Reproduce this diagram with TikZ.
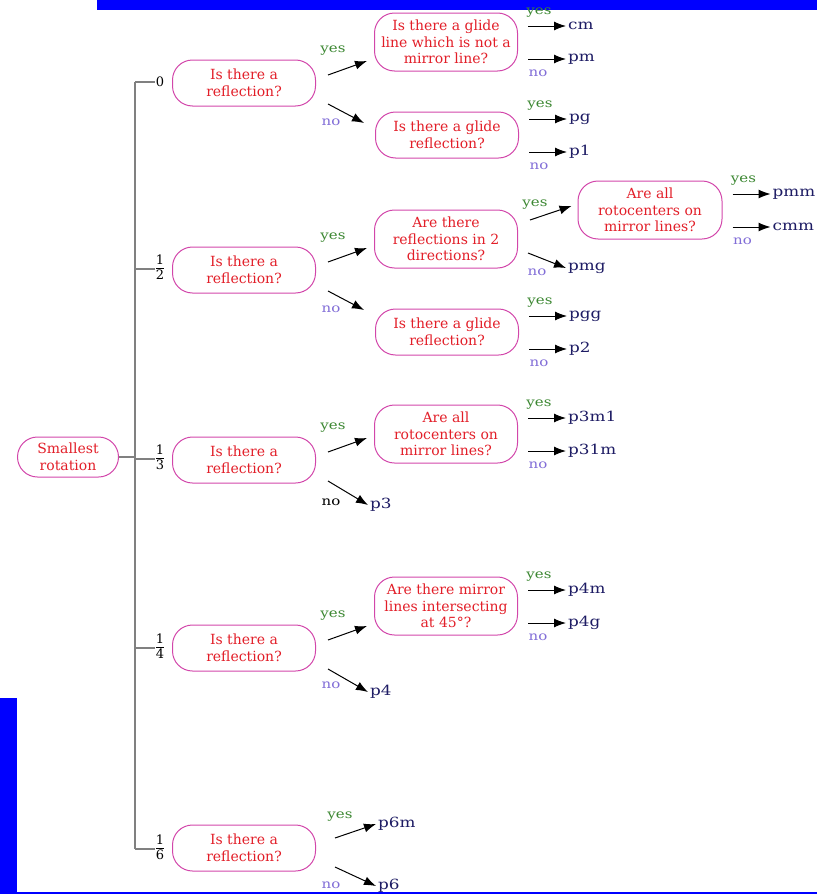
\documentclass[tikz,border=0pt]{standalone}
\usepackage{fontspec}
\setmainfont{DejaVu Serif}
\newfontfamily\leaffont[FakeStretch=1.2]{DejaVu Serif}
\usetikzlibrary{calc,arrows.meta,positioning}

\definecolor{boxline}{RGB}{210,70,170}
\definecolor{qred}{RGB}{226,30,40}
\definecolor{yesgreen}{RGB}{60,135,50}
\definecolor{nopurple}{RGB}{130,110,215}
\definecolor{leafblue}{RGB}{30,28,100}
\definecolor{barblue}{RGB}{0,0,255}

% stacked fraction for the rotation values
\newcommand{\rotfrac}[2]{{\renewcommand{\arraystretch}{0.85}%
	\begin{tabular}{@{}c@{}}#1\\[-1pt]\hline\noalign{\vskip 1.5pt}#2\end{tabular}}}

\tikzset{
	question/.style={draw=boxline, line width=1pt, text=qred, rounded corners=20pt, align=center,
		minimum width=143pt, minimum height=46pt, inner sep=1pt,
		font=\fontsize{14}{16.5}\selectfont},
	tall/.style={minimum height=58pt},
	leaf/.style={text=leafblue, anchor=west, inner sep=2pt, font=\leaffont\fontsize{14}{15}\selectfont},
	yeslab/.style={text=yesgreen, inner sep=1pt, font=\leaffont\fontsize{12.5}{13}\selectfont},
	nolab/.style={text=nopurple, inner sep=1pt, font=\leaffont\fontsize{12.5}{13}\selectfont},
	arr/.style={-{Latex[length=12pt,width=9pt]}, line width=1pt},
	trunk/.style={draw=gray, line width=1.2pt},
	frac/.style={inner sep=1pt, font=\fontsize{13}{15}\selectfont},
}

\begin{document}
\begin{tikzpicture}[x=1pt, y=-1pt]

	\useasboundingbox (0,0) rectangle (817,894);

	% blue frame pieces
	\fill[barblue] (97,0) rectangle (817,10);
	\fill[barblue] (0,698) rectangle (17,894);
	\fill[barblue] (0,891.5) rectangle (817,894);

	% root and trunk
	\node[question, minimum width=101pt, minimum height=40pt] (root) at (68,457) {Smallest\\rotation};
	\coordinate (t0) at (135,82);
	\coordinate (t6) at (135,849);
	\draw[trunk] (t0) -- (t6);
	\draw[trunk] (root.east) -- (root.east -| t0);

	% smallest rotation values
	\node[frac] (r0) at (160,82) {0};
	\node[frac] (r2) at (160,269) {\rotfrac{1}{2}};
	\node[frac] (r3) at (160,459) {\rotfrac{1}{3}};
	\node[frac] (r4) at (160,648) {\rotfrac{1}{4}};
	\node[frac] (r6) at (160,849) {\rotfrac{1}{6}};
	\foreach \r in {r0,r2,r3,r4,r6}
		\draw[trunk] (\r.west -| t0) -- (\r.west);

	% first question
	\node[question] (q0) at (244,83) {Is there a\\reflection?};
	\node[question] (q2) at (244,270) {Is there a\\reflection?};
	\node[question] (q3) at (244,460) {Is there a\\reflection?};
	\node[question] (q4) at (244,648) {Is there a\\reflection?};
	\node[question] (q6) at (244,848) {Is there a\\reflection?};

	% second question
	\node[question, tall] (q0y) at (446,42) {Is there a glide\\line which is not a\\mirror line?};
	\node[question] (q0n) at (447,135) {Is there a glide\\reflection?};
	\node[question, tall] (q2y) at (446,239) {Are there\\reflections in 2\\directions?};
	\node[question] (q2n) at (447,332) {Is there a glide\\reflection?};
	\node[question, tall] (q3y) at (446,434) {Are all\\rotocenters on\\mirror lines?};
	\node[question, tall] (q4y) at (446,606) {Are there mirror\\lines intersecting\\at 45°?};
	\node[question, tall, minimum width=144pt] (q2yy) at (650,210) {Are all\\rotocenters on\\mirror lines?};

	% yes / no out of the first question
	\foreach \q in {q0,q2,q3,q4} {
		\draw[arr] ($(\q.east)+(12,-8)$) -- ($(\q.east)+(51,-22)$);
		\node[yeslab] (\q-yes) at ($(\q.east)+(17,-32)$) {yes};
	}
	\foreach \q in {q0,q2} {
		\draw[arr] ($(\q.east)+(12,21)$) -- ($(\q.east)+(48,40)$);
		\node[nolab] (\q-no) at ($(\q.east)+(15,39)$) {no};
	}
	\draw[arr] ($(q2y.east)+(12,-19)$) -- ($(q2yy.west)+(-6,-4)$);
	\node[yeslab] (q2y-yes) at ($(q2y.east)+(17,-34)$) {yes};

	% leaves reached straight from a question
	\node[leaf] (pmg) at ($(q2y.east)+(48,29)$) {pmg};
	\draw[arr] ($(q2y.east)+(10,14)$) -- (pmg.west);
	\node[nolab] (q2y-no) at ($(q2y.east)+(19,33)$) {no};

	\node[leaf] (p3) at ($(q3.east)+(52,45)$) {p3};
	\draw[arr] ($(q3.east)+(12,21)$) -- (p3.west);
	\node[text=black, inner sep=1pt, font=\leaffont\fontsize{12.5}{13}\selectfont] (q3-no) at ($(q3.east)+(15,42)$) {no};

	\node[leaf] (p4) at ($(q4.east)+(52,44)$) {p4};
	\draw[arr] ($(q4.east)+(12,21)$) -- (p4.west);
	\node[nolab] (q4-no) at ($(q4.east)+(15,37)$) {no};

	\node[leaf] (p6m) at ($(q6.east)+(60,-24)$) {p6m};
	\draw[arr] ($(q6.east)+(19,-10)$) -- (p6m.west);
	\node[yeslab] (q6-yes) at ($(q6.east)+(24,-31)$) {yes};

	\node[leaf] (p6) at ($(q6.east)+(60,38)$) {p6};
	\draw[arr] ($(q6.east)+(19,19)$) -- (p6.west);
	\node[nolab] (q6-no) at ($(q6.east)+(15,37)$) {no};

	% leaves after the second question
	\foreach \b/\l in {q0y/cm, q0n/pg, q2n/pgg, q3y/p3m1, q4y/p4m, q2yy/pmm} {
		\node[leaf] (\l) at ($(\b.east)+(48,-16)$) {\l};
		\draw[arr] ($(\l.west)+(-38,0)$) -- (\l.west);
		\node[yeslab] (\l-yes) at ($(\l.west)+(-27,-13)$) {yes};
	}
	\foreach \b/\l in {q0y/pm, q0n/p1, q2n/p2, q3y/p31m, q4y/p4g, q2yy/cmm} {
		\node[leaf] (\l) at ($(\b.east)+(48,17)$) {\l};
		\draw[arr] ($(\l.west)+(-38,0)$) -- (\l.west);
		\node[nolab] (\l-no) at ($(\l.west)+(-28,14)$) {no};
	}

\end{tikzpicture}
\end{document}
